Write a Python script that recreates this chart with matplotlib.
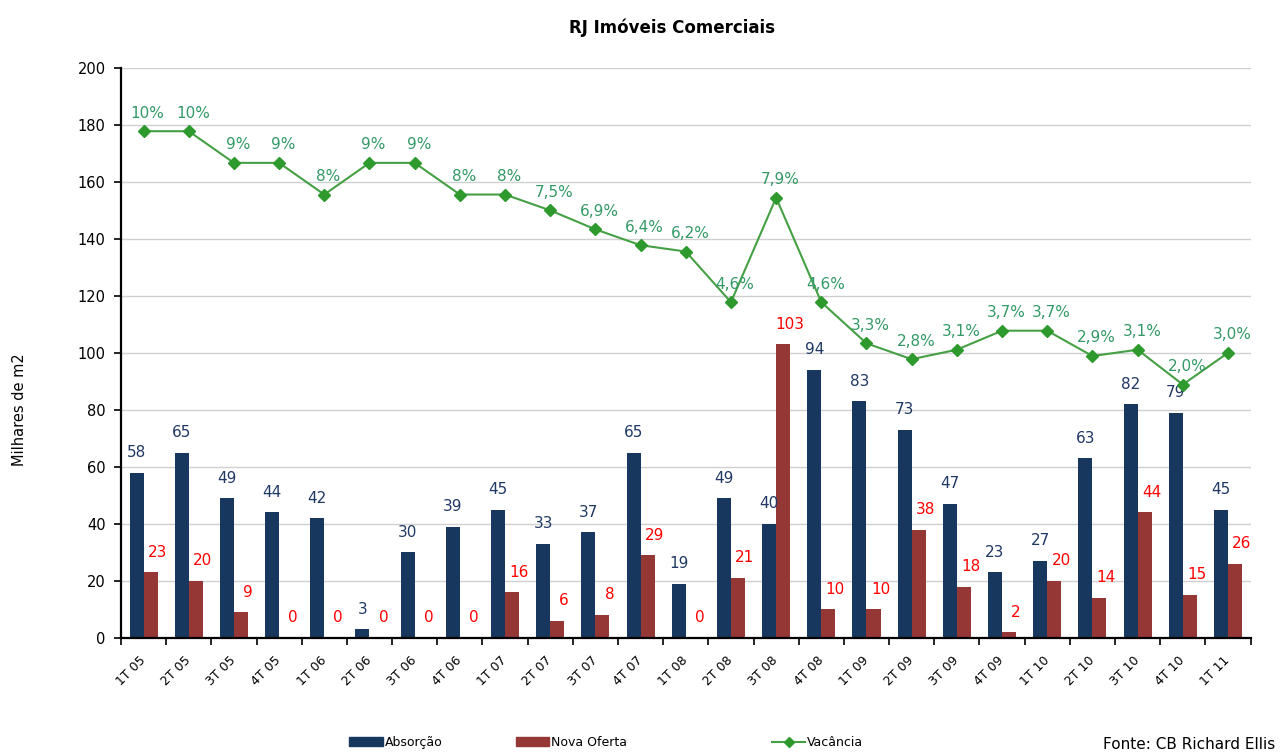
import matplotlib.pyplot as plt
import numpy as np
from matplotlib.patches import Patch
from matplotlib.lines import Line2D

# Dados
trimestres = ['1T 05', '2T 05', '3T 05', '4T 05', '1T 06', '2T 06', '3T 06', '4T 06',
              '1T 07', '2T 07', '3T 07', '4T 07', '1T 08', '2T 08', '3T 08', '4T 08',
              '1T 09', '2T 09', '3T 09', '4T 09', '1T 10', '2T 10', '3T 10', '4T 10', '1T 11']
absorcao = [58, 65, 49, 44, 42, 3, 30, 39, 45, 33, 37, 65, 19, 49, 40, 94,
            83, 73, 47, 23, 27, 63, 82, 79, 45]
nova_oferta = [23, 20, 9, 0, 0, 0, 0, 0, 16, 6, 8, 29, 0, 21, 103, 10,
               10, 38, 18, 2, 20, 14, 44, 15, 26]
vacancia = [10.0, 10.0, 9.0, 9.0, 8.0, 9.0, 9.0, 8.0, 8.0, 7.5, 6.9, 6.4, 6.2, 4.6, 7.9, 4.6,
            3.3, 2.8, 3.1, 3.7, 3.7, 2.9, 3.1, 2.0, 3.0]
vacancia_rotulos = ['10%', '10%', '9%', '9%', '8%', '9%', '9%', '8%', '8%', '7,5%', '6,9%',
                    '6,4%', '6,2%', '4,6%', '7,9%', '4,6%', '3,3%', '2,8%', '3,1%', '3,7%',
                    '3,7%', '2,9%', '3,1%', '2,0%', '3,0%']

azul = '#17375E'
vermelho = '#953735'
verde = '#45A045'

plt.rcParams['font.family'] = ['DejaVu Sans']

fig = plt.figure(figsize=(12.8, 7.54), dpi=100)
ax = fig.add_axes([0.0945, 0.154, 0.8825, 0.756])

x = np.arange(len(trimestres))
w = 0.31

ax.bar(x - w / 2, absorcao, w, color=azul, zorder=2)
ax.bar(x + w / 2, nova_oferta, w, color=vermelho, zorder=2)

# Rótulos das barras
for xi, v in zip(x, absorcao):
    ax.annotate(str(v), (xi - w / 2, v), xytext=(0, 14.5), textcoords='offset points',
                ha='center', va='center', fontsize=11, color='#1F3864')
for xi, v in zip(x, nova_oferta):
    ax.annotate(str(v), (xi + w / 2, v), xytext=(5, 14.5), textcoords='offset points',
                ha='center', va='center', fontsize=11, color='#FF0000')

ax.set_xlim(-0.5, len(trimestres) - 0.5)
ax.set_ylim(0, 200)
ax.set_yticks(np.arange(0, 201, 20))
ax.yaxis.grid(True, color='#D0D0D0', linewidth=1, zorder=0)
ax.set_axisbelow(True)

ax.set_xticks(x)
ax.set_xticklabels(trimestres, rotation=45, ha='right', va='center',
                   rotation_mode='anchor', fontsize=9)
ax.set_xticks(np.arange(-0.5, len(trimestres), 1), minor=True)
ax.tick_params(axis='x', which='major', length=0, pad=15)
ax.tick_params(axis='x', which='minor', length=5, width=1.2, direction='out')
ax.tick_params(axis='y', length=5, width=1.2, labelsize=10.5, pad=6)

for s in ['top', 'right']:
    ax.spines[s].set_visible(False)
ax.spines['left'].set_linewidth(1.6)
ax.spines['bottom'].set_linewidth(1.6)

ax.set_ylabel('Milhares de m2', fontsize=10.5)
ax.yaxis.set_label_coords(-0.083, 0.40)

# Vacância num eixo secundário escondido
ax2 = ax.twinx()
ax2.set_ylim(-6, 12)
ax2.axis('off')
ax2.plot(x, vacancia, color=verde, linewidth=1.5, marker='D', markersize=6,
         markerfacecolor='#2E9A2E', markeredgecolor='#2E9A2E', zorder=3)
for xi, v, r in zip(x, vacancia, vacancia_rotulos):
    ax2.annotate(r, (xi, v), xytext=(3, 13), textcoords='offset points',
                 ha='center', va='center', fontsize=11, color='#339966')

fig.suptitle('RJ Imóveis Comerciais', x=0.525, y=0.975, fontsize=12, fontweight='bold')

# Legendas
leg_kw = dict(frameon=False, fontsize=9, handlelength=2.7, handleheight=0.75,
              handletextpad=0.15, loc='center left', borderpad=0)
fig.legend(handles=[Patch(color=azul, label='Absorção')],
           bbox_to_anchor=(0.268, 0.015), **leg_kw)
fig.legend(handles=[Patch(color=vermelho, label='Nova Oferta')],
           bbox_to_anchor=(0.398, 0.015), **leg_kw)
fig.legend(handles=[Line2D([0], [0], color=verde, marker='D', markersize=5,
                           markerfacecolor='#2E9A2E', markeredgecolor='#2E9A2E',
                           label='Vacância')],
           bbox_to_anchor=(0.598, 0.015), **leg_kw)

fig.text(0.996, 0.012, 'Fonte: CB Richard Ellis', ha='right', va='center', fontsize=11)

fig.savefig('out.png', dpi=100)
